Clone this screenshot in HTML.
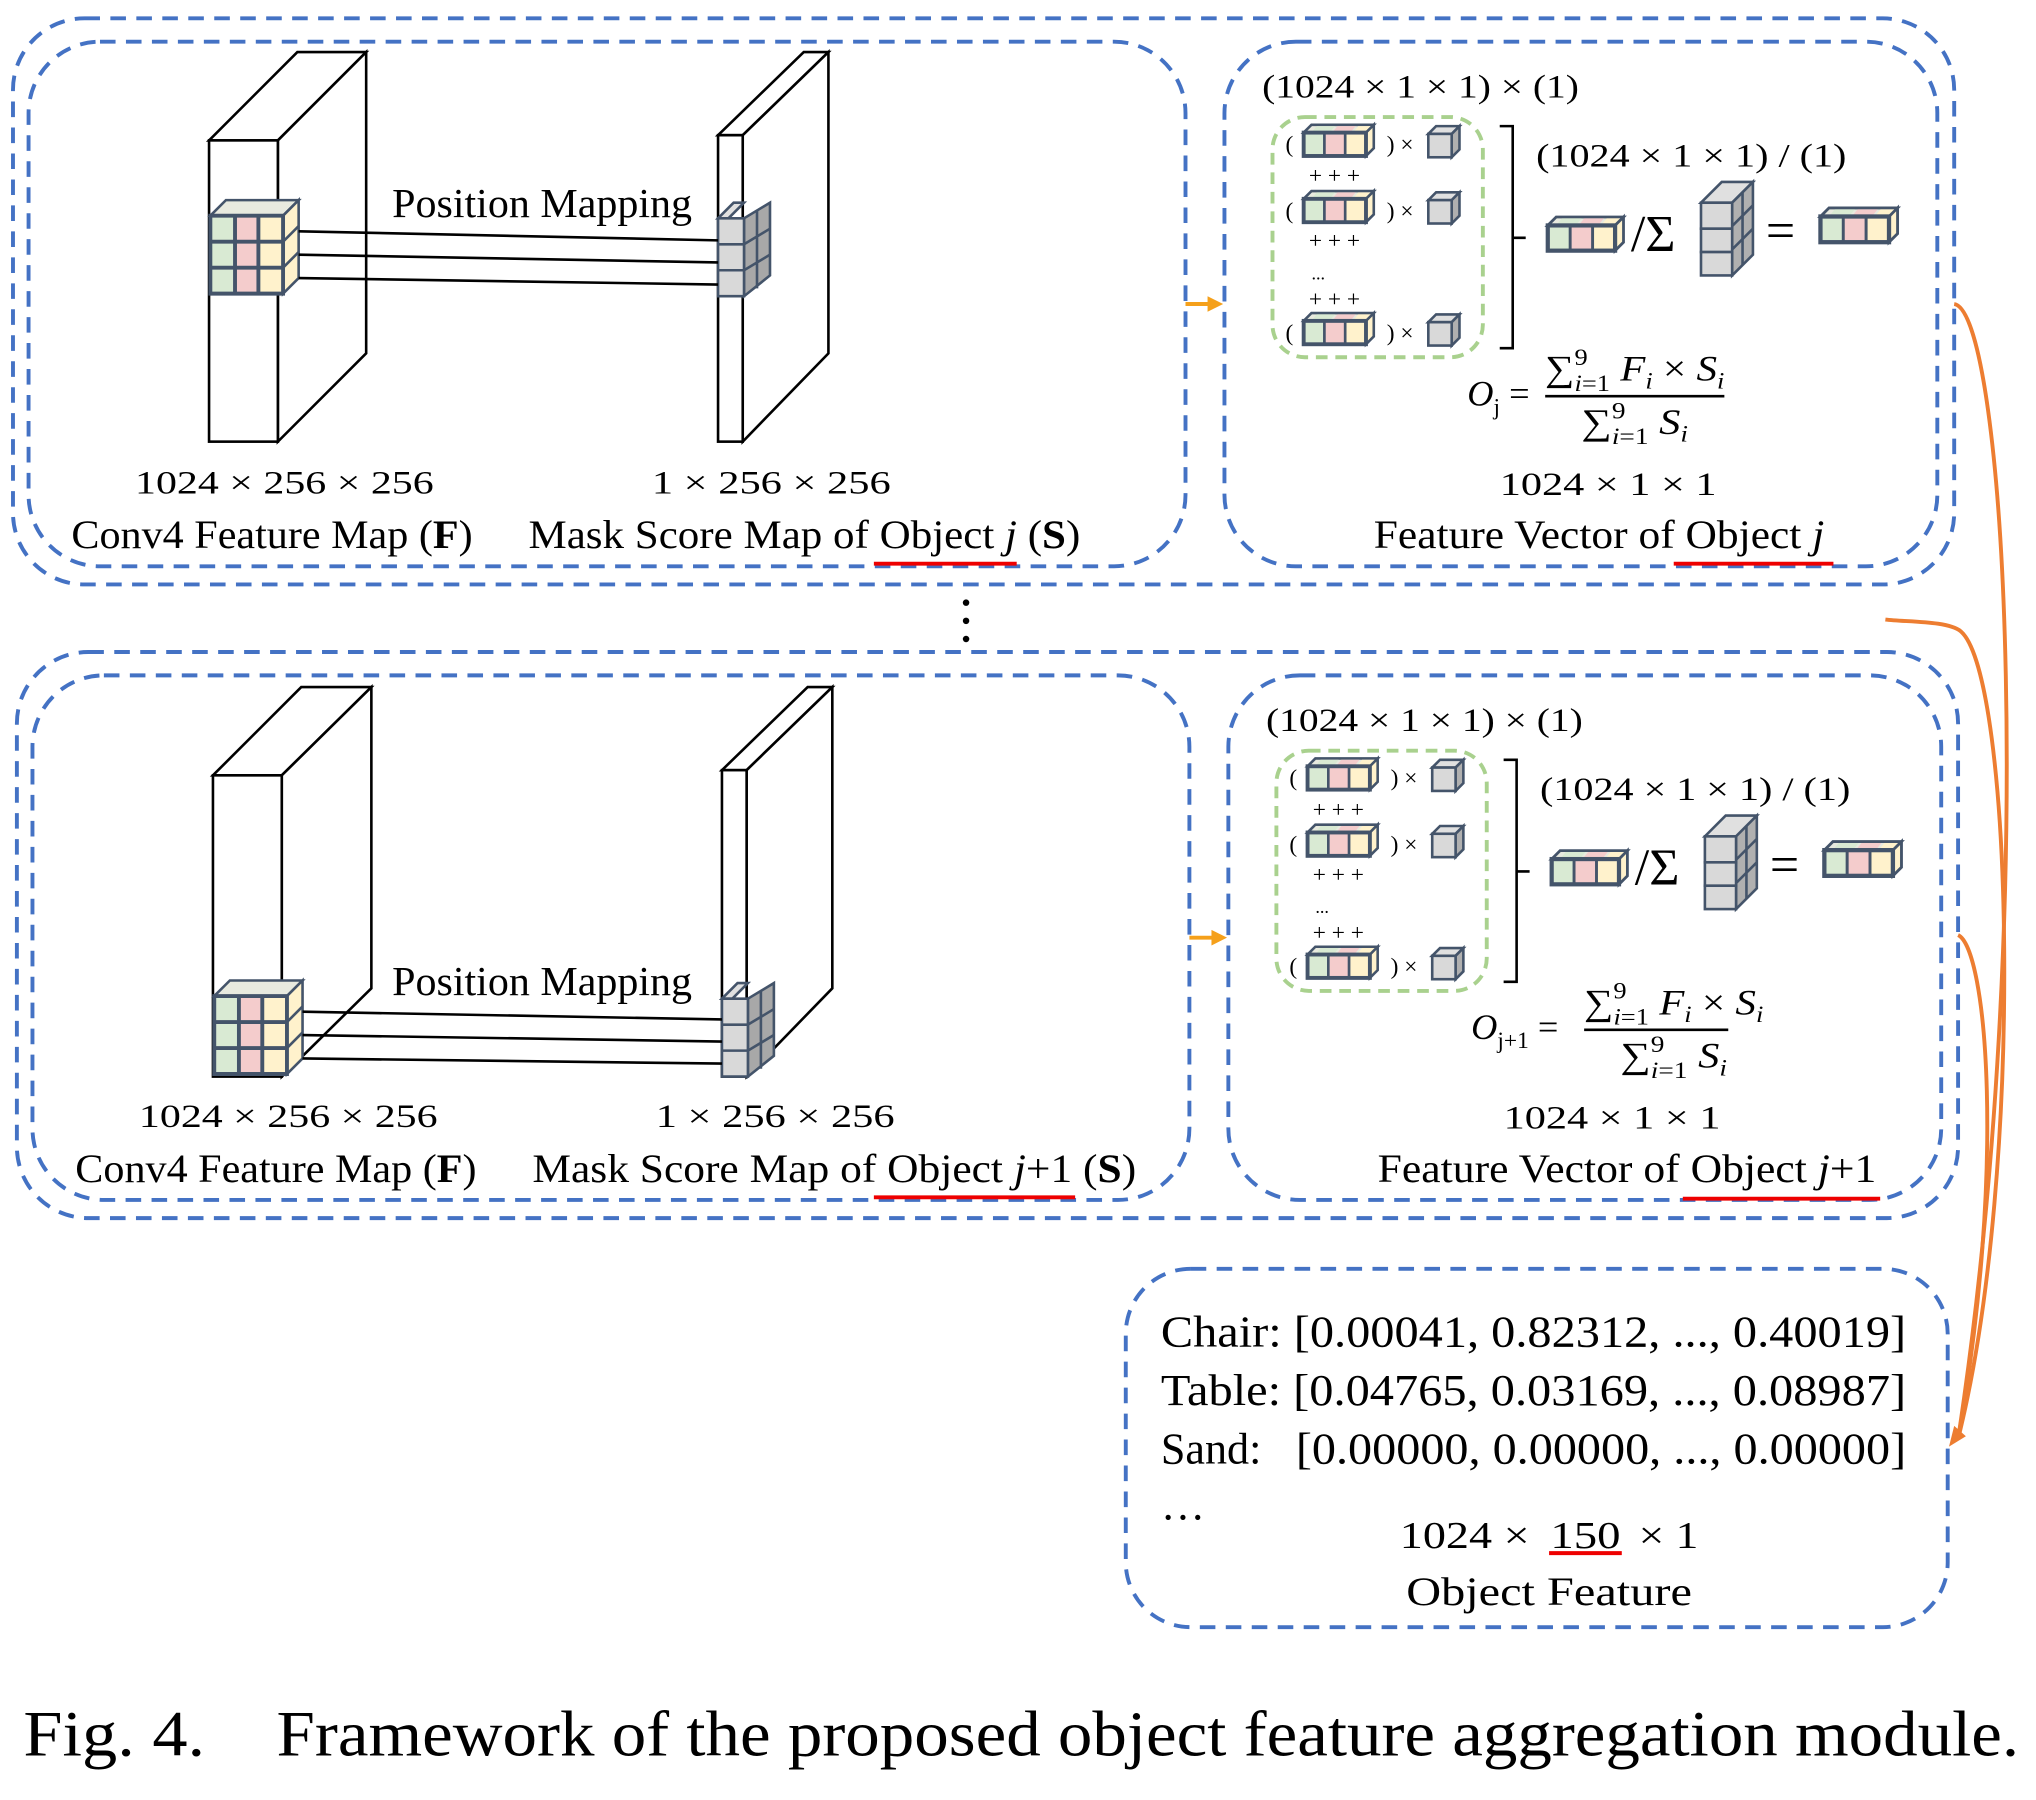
<!DOCTYPE html>
<html><head><meta charset="utf-8"><style>
html,body{margin:0;padding:0;background:#fff;}
svg{display:block;}
text{font-family:"Liberation Serif",serif;fill:#000;}
</style></head><body>
<svg width="2036" height="1800" viewBox="0 0 1568 1386" xmlns="http://www.w3.org/2000/svg">
<defs>
<g id="bar">
 <polygon points="0,6 6,0 54,0 48,6" fill="#e8eadf" stroke="#44546a" stroke-width="2"/>
 <polygon points="6,6 10,1 24,1 20,6" fill="#d9ead3"/>
 <polygon points="22,6 26,1 40,1 36,6" fill="#f4cccc"/>
 <polygon points="38,6 42,1 54,1 48,6" fill="#fff2cc"/>
 <polygon points="48,6 54,0 54,18 48,24" fill="#fff2cc" stroke="#44546a" stroke-width="2"/>
 <rect x="0" y="6" width="16" height="18" fill="#d9ead3" stroke="#44546a" stroke-width="2"/>
 <rect x="16" y="6" width="16" height="18" fill="#f4cccc" stroke="#44546a" stroke-width="2"/>
 <rect x="32" y="6" width="16" height="18" fill="#fff2cc" stroke="#44546a" stroke-width="2"/>
 <rect x="0" y="6" width="48" height="18" fill="none" stroke="#44546a" stroke-width="3"/>
</g>
<g id="gcube">
 <polygon points="0,6 6,0 24,0 18,6" fill="#e0e0e0" stroke="#44546a" stroke-width="2"/>
 <polygon points="18,6 24,0 24,18 18,24" fill="#b0b0b0" stroke="#44546a" stroke-width="2"/>
 <rect x="0" y="6" width="18" height="18" fill="#d9d9d9" stroke="#44546a" stroke-width="2"/>
</g>
<g id="gstack">
 <polygon points="0,16 16,0 40,0 24,16" fill="#e0e0e0" stroke="#44546a" stroke-width="2"/>
 <polygon points="24,16 40,0 40,56 24,72" fill="#b0b0b0" stroke="#44546a" stroke-width="2"/>
 <line x1="24" y1="34" x2="40" y2="18" stroke="#44546a" stroke-width="2"/>
 <line x1="24" y1="52" x2="40" y2="36" stroke="#44546a" stroke-width="2"/>
 <line x1="32" y1="8" x2="32" y2="64" stroke="#44546a" stroke-width="2"/>
 <rect x="0" y="16" width="24" height="20" fill="#d9d9d9" stroke="#44546a" stroke-width="2"/>
 <rect x="0" y="36" width="24" height="18" fill="#d9d9d9" stroke="#44546a" stroke-width="2"/>
 <rect x="0" y="54" width="24" height="18" fill="#d9d9d9" stroke="#44546a" stroke-width="2"/>
</g>
<g id="cube3">
 <polygon points="0,12 12,0 68,0 56,12" fill="#e8eadf" stroke="#44546a" stroke-width="2"/>
 <polygon points="56,12 68,0 68,60 56,72" fill="#fff2cc" stroke="#44546a" stroke-width="2"/>
 <line x1="56" y1="32" x2="68" y2="20" stroke="#44546a" stroke-width="2"/>
 <line x1="56" y1="52" x2="68" y2="40" stroke="#44546a" stroke-width="2"/>
 <rect x="0" y="12" width="19" height="60" fill="#d9ead3"/>
 <rect x="19" y="12" width="18" height="60" fill="#f4cccc"/>
 <rect x="37" y="12" width="19" height="60" fill="#fff2cc"/>
 <path d="M0,12H56V72H0Z M0,32H56 M0,52H56 M19,12V72 M37,12V72" fill="none" stroke="#44546a" stroke-width="3"/>
</g>
<g id="gcube3">
 <polygon points="0,12 12,0 20,0 8,12" fill="#e0e0e0" stroke="#44546a" stroke-width="2"/>
 <polygon points="20,12 40,0 40,56 20,72" fill="#a8a8a8" stroke="#44546a" stroke-width="2"/>
 <path d="M20,32L40,20 M20,52L40,40 M30,6V66" stroke="#44546a" stroke-width="2"/>
 <rect x="0" y="12" width="20" height="60" fill="#d9d9d9"/>
 <path d="M0,12H20V72H0Z M0,32H20 M0,52H20" fill="none" stroke="#44546a" stroke-width="2"/>
</g>
</defs>

<!-- ============ PANEL 1 ============ -->
<g stroke="#4472c4" stroke-width="3" stroke-dasharray="12,8" fill="none">
 <rect x="10" y="14" width="1495" height="436" rx="55"/>
 <rect x="22" y="32" width="891" height="404" rx="55"/>
 <rect x="943" y="32" width="549" height="404" rx="55"/>
</g>
<g fill="#fff" stroke="#000" stroke-width="2">
 <polygon points="161,108 229,40 282,40 214,108"/>
 <polygon points="214,108 282,40 282,272 214,340"/>
 <rect x="161" y="108" width="53" height="232"/>
 <polygon points="553,104 619,40 638,40 572,104"/>
 <polygon points="572,104 638,40 638,272 572,340"/>
 <rect x="553" y="104" width="19" height="236"/>
</g>
<use href="#cube3" x="162" y="154"/>
<use href="#gcube3" x="553" y="156"/>
<g stroke="#000" stroke-width="2">
 <line x1="230" y1="178" x2="553" y2="185"/>
 <line x1="230" y1="196" x2="553" y2="202"/>
 <line x1="230" y1="214" x2="553" y2="219"/>
</g>
<text x="302" y="167" font-size="32" textLength="231" lengthAdjust="spacingAndGlyphs">Position Mapping</text>
<text x="104" y="380" font-size="25" textLength="230" lengthAdjust="spacingAndGlyphs">1024 × 256 × 256</text>
<text x="502" y="380" font-size="25" textLength="184" lengthAdjust="spacingAndGlyphs">1 × 256 × 256</text>
<text x="55" y="422" font-size="31" textLength="309" lengthAdjust="spacingAndGlyphs">Conv4 Feature Map (<tspan font-weight="bold">F</tspan>)</text>
<text x="407" y="422" font-size="31" textLength="425" lengthAdjust="spacingAndGlyphs">Mask Score Map of Object  <tspan font-style="italic">j</tspan> (<tspan font-weight="bold">S</tspan>)</text>
<line x1="673" y1="434" x2="783" y2="434" stroke="#e00" stroke-width="3"/>
<line x1="913" y1="234" x2="932" y2="234" stroke="#f5a01a" stroke-width="3"/>
<polygon points="942,234 930,228 930,240" fill="#f5a01a"/>
<text x="972" y="75" font-size="25" textLength="244" lengthAdjust="spacingAndGlyphs">(1024 × 1 × 1) × (1)</text>
<rect x="980" y="90" width="162" height="185" rx="25" fill="none" stroke="#a9d18e" stroke-width="3" stroke-dasharray="9,6"/>
<g font-size="18">
 <text x="990" y="117">(</text><use href="#bar" x="1004" y="96"/><text x="1068" y="117">) ×</text><use href="#gcube" x="1100" y="97"/>
 <text x="1008" y="141">+ + +</text>
 <text x="990" y="168">(</text><use href="#bar" x="1004" y="147"/><text x="1068" y="168">) ×</text><use href="#gcube" x="1100" y="148"/>
 <text x="1008" y="191">+ + +</text>
 <text x="1010" y="215" font-size="14">...</text>
 <text x="1008" y="236">+ + +</text>
 <text x="990" y="262">(</text><use href="#bar" x="1004" y="241"/><text x="1068" y="262">) ×</text><use href="#gcube" x="1100" y="242"/>
</g>
<path d="M1155,97H1165V268H1155 M1165,183H1175" fill="none" stroke="#000" stroke-width="2"/>
<text x="1183" y="128" font-size="25" textLength="239" lengthAdjust="spacingAndGlyphs">(1024 × 1 × 1) / (1)</text>
<use href="#bar" transform="translate(1192,167) scale(1.08)"/>
<text x="1256" y="193" font-size="40">/Σ</text>
<use href="#gstack" x="1310" y="140"/>
<text x="1360" y="191" font-size="40">=</text>
<use href="#bar" transform="translate(1402,160) scale(1.1)"/>
<text x="1130" y="312" font-size="28" font-style="italic">O<tspan font-size="18" font-style="normal" dy="7">j</tspan><tspan dy="-7" font-style="normal"> =</tspan></text>
<text x="1190" y="293" font-size="28" textLength="138" lengthAdjust="spacingAndGlyphs">∑<tspan font-size="18" dy="-12">9</tspan><tspan font-size="18" dx="-9" dy="20" font-style="italic">i</tspan><tspan font-size="18">=1</tspan><tspan dy="-8" font-style="italic"> F</tspan><tspan font-size="18" dy="6" font-style="italic">i</tspan><tspan dy="-6"> × </tspan><tspan font-style="italic">S</tspan><tspan font-size="18" dy="6" font-style="italic">i</tspan></text>
<line x1="1190" y1="305" x2="1328" y2="305" stroke="#000" stroke-width="2"/>
<text x="1218" y="334" font-size="28" textLength="82" lengthAdjust="spacingAndGlyphs">∑<tspan font-size="18" dy="-12">9</tspan><tspan font-size="18" dx="-9" dy="20" font-style="italic">i</tspan><tspan font-size="18">=1</tspan><tspan dy="-8" font-style="italic"> S</tspan><tspan font-size="18" dy="6" font-style="italic">i</tspan></text>
<text x="1155" y="381" font-size="25" textLength="167" lengthAdjust="spacingAndGlyphs">1024 × 1 × 1</text>
<text x="1058" y="422" font-size="31" textLength="347" lengthAdjust="spacingAndGlyphs">Feature Vector of Object  <tspan font-style="italic">j</tspan></text>
<line x1="1289" y1="434" x2="1412" y2="434" stroke="#e00" stroke-width="3"/>

<circle cx="744" cy="464" r="2.5"/><circle cx="744" cy="478" r="2.5"/><circle cx="744" cy="492" r="2.5"/>

<!-- ============ PANEL 2 ============ -->
<g stroke="#4472c4" stroke-width="3" stroke-dasharray="12,8" fill="none">
 <rect x="13" y="502" width="1495" height="436" rx="55"/>
 <rect x="25" y="520" width="891" height="404" rx="55"/>
 <rect x="946" y="520" width="549" height="404" rx="55"/>
</g>
<g fill="#fff" stroke="#000" stroke-width="2">
 <polygon points="164,597 232,529 286,529 217,597"/>
 <polygon points="217,597 286,529 286,761 217,829"/>
 <rect x="164" y="597" width="53" height="232"/>
 <polygon points="556,593 622,529 641,529 575,593"/>
 <polygon points="575,593 641,529 641,761 575,829"/>
 <rect x="556" y="593" width="19" height="236"/>
</g>
<use href="#cube3" x="165" y="755"/>
<use href="#gcube3" x="556" y="757"/>
<g stroke="#000" stroke-width="2">
 <line x1="233" y1="779" x2="556" y2="785"/>
 <line x1="233" y1="797" x2="556" y2="802"/>
 <line x1="233" y1="815" x2="556" y2="819"/>
</g>
<text x="302" y="766" font-size="32" textLength="231" lengthAdjust="spacingAndGlyphs">Position Mapping</text>
<text x="107" y="868" font-size="25" textLength="230" lengthAdjust="spacingAndGlyphs">1024 × 256 × 256</text>
<text x="505" y="868" font-size="25" textLength="184" lengthAdjust="spacingAndGlyphs">1 × 256 × 256</text>
<text x="58" y="910" font-size="31" textLength="309" lengthAdjust="spacingAndGlyphs">Conv4 Feature Map (<tspan font-weight="bold">F</tspan>)</text>
<text x="410" y="910" font-size="31" textLength="465" lengthAdjust="spacingAndGlyphs">Mask Score Map of Object  <tspan font-style="italic">j</tspan>+1 (<tspan font-weight="bold">S</tspan>)</text>
<line x1="673" y1="922" x2="828" y2="922" stroke="#e00" stroke-width="3"/>
<line x1="916" y1="722" x2="935" y2="722" stroke="#f5a01a" stroke-width="3"/>
<polygon points="945,722 933,716 933,728" fill="#f5a01a"/>
<text x="975" y="563" font-size="25" textLength="244" lengthAdjust="spacingAndGlyphs">(1024 × 1 × 1) × (1)</text>
<rect x="983" y="578" width="162" height="185" rx="25" fill="none" stroke="#a9d18e" stroke-width="3" stroke-dasharray="9,6"/>
<g font-size="18">
 <text x="993" y="605">(</text><use href="#bar" x="1007" y="584"/><text x="1071" y="605">) ×</text><use href="#gcube" x="1103" y="585"/>
 <text x="1011" y="629">+ + +</text>
 <text x="993" y="656">(</text><use href="#bar" x="1007" y="635"/><text x="1071" y="656">) ×</text><use href="#gcube" x="1103" y="636"/>
 <text x="1011" y="679">+ + +</text>
 <text x="1013" y="703" font-size="14">...</text>
 <text x="1011" y="724">+ + +</text>
 <text x="993" y="750">(</text><use href="#bar" x="1007" y="729"/><text x="1071" y="750">) ×</text><use href="#gcube" x="1103" y="730"/>
</g>
<path d="M1158,585H1168V756H1158 M1168,671H1178" fill="none" stroke="#000" stroke-width="2"/>
<text x="1186" y="616" font-size="25" textLength="239" lengthAdjust="spacingAndGlyphs">(1024 × 1 × 1) / (1)</text>
<use href="#bar" transform="translate(1195,655) scale(1.08)"/>
<text x="1259" y="681" font-size="40">/Σ</text>
<use href="#gstack" x="1313" y="628"/>
<text x="1363" y="679" font-size="40">=</text>
<use href="#bar" transform="translate(1405,648) scale(1.1)"/>
<text x="1133" y="800" font-size="28" font-style="italic">O<tspan font-size="18" font-style="normal" dy="7">j+1</tspan><tspan dy="-7" font-style="normal"> =</tspan></text>
<text x="1220" y="781" font-size="28" textLength="138" lengthAdjust="spacingAndGlyphs">∑<tspan font-size="18" dy="-12">9</tspan><tspan font-size="18" dx="-9" dy="20" font-style="italic">i</tspan><tspan font-size="18">=1</tspan><tspan dy="-8" font-style="italic"> F</tspan><tspan font-size="18" dy="6" font-style="italic">i</tspan><tspan dy="-6"> × </tspan><tspan font-style="italic">S</tspan><tspan font-size="18" dy="6" font-style="italic">i</tspan></text>
<line x1="1220" y1="793" x2="1331" y2="793" stroke="#000" stroke-width="2"/>
<text x="1248" y="822" font-size="28" textLength="82" lengthAdjust="spacingAndGlyphs">∑<tspan font-size="18" dy="-12">9</tspan><tspan font-size="18" dx="-9" dy="20" font-style="italic">i</tspan><tspan font-size="18">=1</tspan><tspan dy="-8" font-style="italic"> S</tspan><tspan font-size="18" dy="6" font-style="italic">i</tspan></text>
<text x="1158" y="869" font-size="25" textLength="167" lengthAdjust="spacingAndGlyphs">1024 × 1 × 1</text>
<text x="1061" y="910" font-size="31" textLength="384" lengthAdjust="spacingAndGlyphs">Feature Vector of Object  <tspan font-style="italic">j</tspan>+1</text>
<line x1="1296" y1="923" x2="1448" y2="923" stroke="#e00" stroke-width="3"/>

<g fill="none" stroke="#ed7d31" stroke-width="3">
 <path d="M1505,234 C1545,240 1570,700 1508,1108"/>
 <path d="M1452,477 C1470,479 1500,478 1510,486 C1550,520 1560,900 1508,1108"/>
 <path d="M1508,720 C1530,730 1545,900 1508,1108"/>
</g>
<polygon points="1501,1114 1505,1098 1514,1106" fill="#ed7d31"/>

<rect x="867" y="977" width="633" height="276" rx="50" fill="none" stroke="#4472c4" stroke-width="3" stroke-dasharray="12,8"/>
<g font-size="34">
 <text x="894" y="1037" textLength="574" lengthAdjust="spacingAndGlyphs">Chair: [0.00041, 0.82312, ..., 0.40019]</text>
 <text x="894" y="1082" textLength="574" lengthAdjust="spacingAndGlyphs">Table: [0.04765, 0.03169, ..., 0.08987]</text>
 <text x="894" y="1127">Sand:</text>
 <text x="998" y="1127" textLength="470" lengthAdjust="spacingAndGlyphs">[0.00000, 0.00000, ..., 0.00000]</text>
 <text x="894" y="1170">…</text>
</g>
<text x="1078" y="1192" font-size="29" textLength="100" lengthAdjust="spacingAndGlyphs">1024  ×</text>
<text x="1194" y="1192" font-size="29" textLength="54" lengthAdjust="spacingAndGlyphs">150</text>
<text x="1262" y="1192" font-size="29" textLength="46" lengthAdjust="spacingAndGlyphs">× 1</text>
<line x1="1193" y1="1196" x2="1249" y2="1196" stroke="#e00" stroke-width="3"/>
<text x="1083" y="1236" font-size="31" textLength="220" lengthAdjust="spacingAndGlyphs">Object Feature</text>

<text x="18" y="1352" font-size="50" textLength="140" lengthAdjust="spacingAndGlyphs">Fig. 4.</text>
<text x="213" y="1352" font-size="50" textLength="1342" lengthAdjust="spacingAndGlyphs">Framework of the proposed object feature aggregation module.</text>
</svg>
</body></html>
